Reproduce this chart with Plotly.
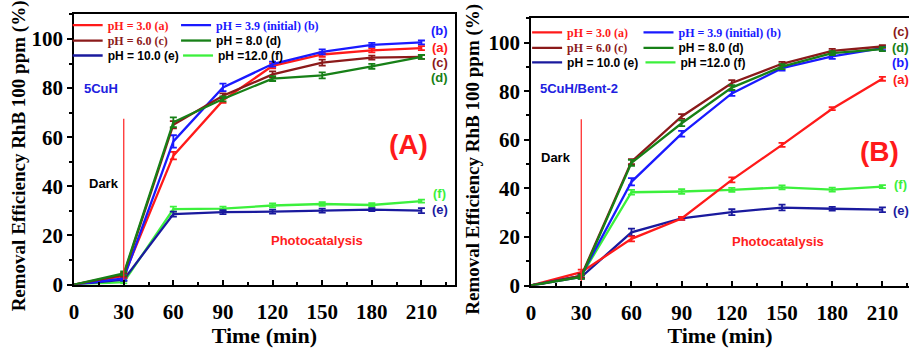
import plotly.graph_objects as go

# ---------------- data ----------------
time = [0, 30, 60, 90, 120, 150, 180, 210]
names = ['pH = 3.0 (a)', 'pH = 3.9 (initial) (b)', 'pH = 6.0 (c)',
         'pH = 8.0 (d)', 'pH = 10.0 (e)', 'pH =12.0 (f)']
tags = ['(a)', '(b)', '(c)', '(d)', '(e)', '(f)']
y_title = 'Removal Efficiency RhB 100 ppm (%)'
x_title = 'Time (min)'

# Panel A: 5CuH
A_a = [0, 3.5, 52.5, 75.0, 89.1, 93.7, 95.4, 96.3]
A_b = [0, 2.5, 58.3, 80.3, 89.8, 94.8, 97.6, 98.6]
A_c = [0, 4.0, 65.1, 76.9, 85.6, 90.4, 92.4, 92.7]
A_d = [0, 4.5, 66.1, 75.6, 83.9, 85.2, 88.9, 92.7]
A_e = [0, 2.0, 28.7, 29.5, 29.7, 30.1, 30.5, 30.1]
A_f = [0, 1.0, 30.7, 30.9, 32.2, 32.8, 32.4, 34.0]
A_a_err = [0, 0.8, 1.5, 1.0, 1.0, 1.0, 0.8, 0.8]
A_b_err = [0, 0.8, 2.5, 1.5, 1.0, 1.0, 0.8, 0.8]
A_c_err = [0, 0.8, 1.5, 1.0, 1.2, 1.2, 0.8, 0.8]
A_d_err = [0, 0.8, 2.0, 1.0, 1.0, 1.2, 1.0, 0.8]
A_e_err = [0, 0.5, 1.0, 0.8, 0.8, 0.8, 0.6, 1.0]
A_f_err = [0, 0.5, 1.0, 0.8, 0.8, 0.8, 0.8, 0.6]

# Panel B: 5CuH/Bent-2
B_a = [0, 5.5, 19.2, 27.6, 43.5, 57.9, 72.8, 85.1]
B_b = [0, 4.0, 42.7, 62.5, 79.1, 89.5, 94.3, 97.7]
B_c = [0, 4.0, 51.0, 69.6, 83.4, 91.3, 96.6, 98.4]
B_d = [0, 3.5, 50.5, 66.8, 81.5, 90.1, 95.7, 97.3]
B_e = [0, 3.5, 21.9, 27.6, 30.2, 32.1, 31.6, 31.2]
B_f = [0, 4.0, 38.4, 38.7, 39.4, 40.4, 39.5, 40.7]
B_a_err = [0, 1.0, 1.0, 0.6, 1.0, 0.8, 0.6, 0.8]
B_b_err = [0, 0.8, 1.5, 1.2, 1.0, 1.0, 1.0, 0.8]
B_c_err = [0, 0.8, 1.0, 1.0, 1.2, 0.8, 0.8, 0.6]
B_d_err = [0, 0.8, 1.2, 1.2, 1.0, 1.0, 0.8, 0.8]
B_e_err = [0, 0.8, 1.5, 0.6, 1.2, 1.2, 0.8, 1.0]
B_f_err = [0, 0.6, 1.0, 1.0, 0.8, 0.8, 0.8, 0.6]

# side tag label heights (data units) at tag_x
tag_x = 221
A_tag_y = [96.7, 103.4, 90.4, 84.5, 30.5, 37.0]
B_tag_y = [85.0, 92.0, 104.5, 98.2, 30.8, 41.7]

dark_x = 30
A_dark_top = 67.5
B_dark_top = 68.5

# ---------------- style ----------------
colors = ['#ff1a1a', '#1a1aff', '#8b1a1a', '#178017', '#1a1a9e', '#3cf03c']
SERIF = 'Liberation Serif'
SANS = 'Liberation Sans'
leg_fonts = [(SERIF, colors[0]), (SERIF, colors[1]), (SERIF, colors[2]),
             (SANS, 'black'), (SANS, 'black'), (SANS, 'black')]

W, H = 909, 348
fig = go.Figure()

A_series = [A_a, A_b, A_c, A_d, A_e, A_f]
A_errs = [A_a_err, A_b_err, A_c_err, A_d_err, A_e_err, A_f_err]
B_series = [B_a, B_b, B_c, B_d, B_e, B_f]
B_errs = [B_a_err, B_b_err, B_c_err, B_d_err, B_e_err, B_f_err]

draw_order = [5, 4, 0, 1, 2, 3]

def legname(k):
    return 'legend' if k == 1 else 'legend%d' % k

for panel, (series, errs, xa, ya) in enumerate([(A_series, A_errs, 'x', 'y'),
                                                  (B_series, B_errs, 'x2', 'y2')]):
    for i in draw_order:
        fig.add_trace(go.Scatter(
            x=time, y=series[i], mode='lines', name=names[i],
            line=dict(color=colors[i], width=2.3),
            error_y=dict(type='data', array=errs[i], color=colors[i],
                         thickness=1.8, width=3.5),
            xaxis=xa, yaxis=ya, legend=legname(panel * 6 + i + 1),
            showlegend=True))

# dark/light boundary lines
for xa, ya, top in [('x', 'y', A_dark_top), ('x2', 'y2', B_dark_top)]:
    fig.add_trace(go.Scatter(x=[dark_x, dark_x], y=[0, top], mode='lines',
                             line=dict(color='#ff3030', width=1.3),
                             xaxis=xa, yaxis=ya, showlegend=False))

# ---------------- legends (one per entry for exact placement) ----------------
A_leg_px = [(103, 26), (212, 26), (103, 42), (212, 42), (103, 57.5), (214, 57.5)]
B_leg_px = [(565, 33.5), (677, 33.5), (565, 49.5), (677, 49.5), (565, 64.5), (679, 64.5)]
legends = {}
for panel, pos in enumerate([A_leg_px, B_leg_px]):
    for i, (tx, ty) in enumerate(pos):
        fam, col = leg_fonts[i]
        legends[legname(panel * 6 + i + 1)] = dict(
            x=(tx - 40) / W, y=1 - ty / H, xanchor='left', yanchor='middle',
            bgcolor='rgba(0,0,0,0)', borderwidth=0, itemwidth=30,
            font=dict(family=fam, size=12, color=col, weight='bold'),
            tracegroupgap=0)

# ---------------- axes ----------------
tickfont = dict(family=SERIF, size=21, color='black', weight='bold')
def xaxis(domain, rng, anchor):
    return dict(domain=domain, range=rng, anchor=anchor, tickmode='array',
                tickvals=time, ticktext=[str(t) for t in time],
                ticks='inside', ticklen=5, tickwidth=2, tickcolor='black',
                minor=dict(tickvals=[15, 45, 75, 105, 135, 165, 195, 225],
                           ticks='inside', ticklen=3, tickwidth=1.5, tickcolor='black'),
                showline=True, linewidth=2, linecolor='black', mirror=True,
                showgrid=False, zeroline=False, tickfont=tickfont,
                ticklabelstandoff=7,
                title=dict(text=x_title, standoff=5,
                           font=dict(family=SERIF, size=22, color='black', weight='bold')))

def yaxis(domain, anchor, mirror):
    return dict(domain=domain, range=[0, 110], anchor=anchor, dtick=20, tick0=0,
                ticks='outside', ticklen=5, tickwidth=2, tickcolor='black',
                minor=dict(dtick=10, ticks='outside', ticklen=3, tickwidth=1.5,
                           tickcolor='black'),
                showline=True, linewidth=2, linecolor='black', mirror=mirror,
                showgrid=False, zeroline=False, tickfont=tickfont)

xA = [69.5 / W, 452 / W]
xB = [529 / W, 1.0]
yA = [(H - 294.7) / H, (H - 15) / H]
yB = [(H - 295.7) / H, (H - 19) / H]

# ---------------- annotations ----------------
ann = []
def txt(x, y, s, xref, yref, size, color, xanchor='center', family=SANS, angle=0):
    ann.append(dict(x=x, y=y, xref=xref, yref=yref, text=s, showarrow=False,
                    xanchor=xanchor, yanchor='middle', textangle=angle,
                    font=dict(family=family, size=size, color=color, weight='bold')))

# y-axis titles (placed precisely in paper space)
txt(15 / W, 1 - 161 / H, y_title, 'paper', 'paper', 19, 'black', family=SERIF, angle=-90)
txt(471 / W, 1 - 165 / H, y_title, 'paper', 'paper', 19, 'black', family=SERIF, angle=-90)

for i in range(6):
    txt(tag_x, A_tag_y[i], tags[i], 'x', 'y', 13, colors[i])
    txt(tag_x, B_tag_y[i], tags[i], 'x2', 'y2', 13, colors[i])

txt(4.5, 80, '5CuH', 'x', 'y', 13, '#2020e0', 'left')
txt(8, 41, 'Dark', 'x', 'y', 13, 'black', 'left')
txt(147, 18, 'Photocatalysis', 'x', 'y', 13, '#ff2020')
txt(202, 57, '(A)', 'x', 'y', 28, '#ff1a1a')
txt(4.2, 81, '5CuH/Bent-2', 'x2', 'y2', 13, '#2020e0', 'left')
txt(4.8, 52.8, 'Dark', 'x2', 'y2', 13, 'black', 'left')
txt(147.4, 18, 'Photocatalysis', 'x2', 'y2', 13, '#ff2020')
txt(208, 55, '(B)', 'x2', 'y2', 28, '#ff1a1a')

fig.update_layout(
    width=W, height=H, margin=dict(l=0, r=0, t=0, b=0),
    paper_bgcolor='white', plot_bgcolor='white',
    xaxis=xaxis(xA, [0, 230], 'y'), yaxis=yaxis(yA, 'x', True),
    xaxis2=xaxis(xB, [0, 225.9], 'y2'), yaxis2=yaxis(yB, 'x2', False),
    annotations=ann, **legends)

fig.write_html('out.html')
